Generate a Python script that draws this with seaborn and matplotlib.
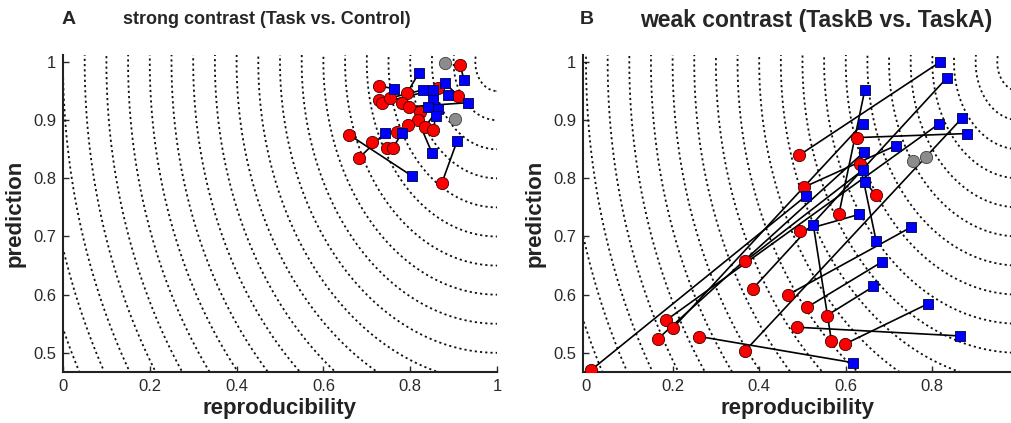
import numpy as np
import pandas as pd
import matplotlib
matplotlib.use("Agg")
import matplotlib.pyplot as plt
import seaborn as sns

# ---------------- data: panel A (strong contrast) ----------------
redA_x = [0.915, 0.727, 0.727, 0.735, 0.753, 0.793, 0.781, 0.797, 0.822, 0.864, 0.910,
          0.818, 0.795, 0.834, 0.853, 0.770, 0.659, 0.712, 0.747, 0.760, 0.682, 0.873]
redA_y = [0.995, 0.959, 0.935, 0.930, 0.938, 0.947, 0.930, 0.923, 0.914, 0.955, 0.942,
          0.900, 0.892, 0.888, 0.883, 0.880, 0.875, 0.863, 0.852, 0.852, 0.835, 0.792]
blueA_x = [0.820, 0.763, 0.829, 0.853, 0.880, 0.924, 0.887, 0.933, 0.853, 0.841, 0.864,
           0.859, 0.742, 0.781, 0.850, 0.908, 0.804]
blueA_y = [0.981, 0.954, 0.952, 0.952, 0.964, 0.969, 0.943, 0.930, 0.935, 0.923, 0.919,
           0.907, 0.878, 0.878, 0.844, 0.864, 0.804]
grayA_x = [0.880, 0.903]
grayA_y = [0.999, 0.902]
pairA_red = [0, 1, 5, 16, 20, 21, 19, 11, 9, 4, 7, 8, 13, 14, 12, 10, 3]
pairA_blue = [5, 1, 0, 16, 12, 15, 13, 14, 6, 2, 7, 9, 10, 11, 8, 4, 3]

# ---------------- data: panel B (weak contrast) ----------------
redB_x = [0.627, 0.493, 0.633, 0.504, 0.669, 0.584, 0.494, 0.467, 0.510, 0.556, 0.487,
          0.567, 0.598, 0.367, 0.385, 0.185, 0.200, 0.166, 0.262, 0.367, 0.011]
redB_y = [0.870, 0.840, 0.824, 0.785, 0.772, 0.738, 0.709, 0.600, 0.578, 0.564, 0.544,
          0.520, 0.515, 0.657, 0.610, 0.556, 0.542, 0.524, 0.528, 0.503, 0.470]
blueB_x = [0.881, 0.818, 0.670, 0.715, 0.644, 0.644, 0.631, 0.751, 0.683, 0.664, 0.864,
           0.525, 0.789, 0.639, 0.834, 0.816, 0.639, 0.642, 0.617, 0.868, 0.507]
blueB_y = [0.877, 1.000, 0.693, 0.856, 0.794, 0.952, 0.738, 0.716, 0.656, 0.614, 0.529,
           0.720, 0.584, 0.814, 0.973, 0.894, 0.894, 0.845, 0.483, 0.903, 0.769]
grayB_x = [0.756, 0.785]
grayB_y = [0.829, 0.837]
pairB_red = list(range(21))
pairB_blue = list(range(21))

titles = ["strong contrast (Task vs. Control)", "weak contrast (TaskB vs. TaskA)"]
letters = ["A", "B"]
xticks = [0, 0.2, 0.4, 0.6, 0.8, 1.0]
xticklabels = ["0", "0.2", "0.4", "0.6", "0.8", "1"]
yticks = [0.5, 0.6, 0.7, 0.8, 0.9, 1.0]
yticklabels = ["0.5", "0.6", "0.7", "0.8", "0.9", "1"]

sns.set_style("ticks")
plt.rcParams["font.family"] = ["Liberation Sans", "DejaVu Sans"]

W, H = 1012, 423
fig = plt.figure(figsize=(W / 100, H / 100), dpi=100)
top_px, bot_px = 55, 372
axA = fig.add_axes([63 / W, 1 - bot_px / H, 434 / W, (bot_px - top_px) / H])
axB = fig.add_axes([583 / W, 1 - bot_px / H, (W - 583) / W, (bot_px - top_px) / H])

ylim = (0.467, 1.012)
xlims = [(0.0, 1.0), (-0.007, 0.984)]


def draw(ax, xlim, rx, ry, bx, by, gx, gy, pr, pb):
    ax.set_xlim(*xlim)
    ax.set_ylim(*ylim)
    gxv = np.linspace(-0.05, 1.05, 600)
    gyv = np.linspace(0.4, 1.05, 600)
    XX, YY = np.meshgrid(gxv, gyv)
    D = np.sqrt((1 - XX) ** 2 + (1 - YY) ** 2)
    ax.contour(XX, YY, D, levels=np.arange(0.05, 1.65, 0.05), colors="#111111",
               linestyles=[(0, (1.2, 1.7))], linewidths=1.3)
    rows = []
    for k, (i, j) in enumerate(zip(pr, pb)):
        rows.append({"x": rx[i], "y": ry[i], "pair": k})
        rows.append({"x": bx[j], "y": by[j], "pair": k})
    df = pd.DataFrame(rows)
    sns.lineplot(data=df, x="x", y="y", units="pair", estimator=None, sort=False,
                 color="black", linewidth=1.2, ax=ax, legend=False, zorder=3)
    sns.scatterplot(x=rx, y=ry, marker="o", s=78, color="#ff0000", edgecolor="#400000",
                    linewidth=0.6, ax=ax, zorder=4, legend=False)
    sns.scatterplot(x=bx, y=by, marker="s", s=48, color="#0000ff", edgecolor="#000040",
                    linewidth=0.6, ax=ax, zorder=5, legend=False)
    sns.scatterplot(x=gx, y=gy, marker="o", s=78, color="#8c8c8c", edgecolor="#404040",
                    linewidth=0.6, ax=ax, zorder=6, legend=False)
    tk = [(t, l) for t, l in zip(xticks, xticklabels) if xlim[0] - 1e-9 <= t <= xlim[1] + 1e-9]
    ax.set_xticks([t for t, _ in tk])
    ax.set_xticklabels([l for _, l in tk])
    ax.set_yticks(yticks)
    ax.set_yticklabels(yticklabels)
    ax.tick_params(direction="in", length=4, width=1, labelsize=12, colors="#2a2a2a",
                   pad=5)
    for s in ["top", "right"]:
        ax.spines[s].set_visible(False)
    for s in ["left", "bottom"]:
        ax.spines[s].set_linewidth(1.5)
        ax.spines[s].set_color("#222222")
    ax.set_xlabel("reproducibility", fontsize=16, fontweight="bold", color="#222222",
                  labelpad=3)
    ax.set_ylabel("prediction", fontsize=16, fontweight="bold", color="#222222",
                  labelpad=5)


draw(axA, xlims[0], redA_x, redA_y, blueA_x, blueA_y, grayA_x, grayA_y, pairA_red, pairA_blue)
draw(axB, xlims[1], redB_x, redB_y, blueB_x, blueB_y, grayB_x, grayB_y, pairB_red, pairB_blue)

fig.text(62 / W, 1 - 20 / H, letters[0], fontsize=14, fontweight="bold", va="center", ha="left")
fig.text(123 / W, 1 - 20 / H, titles[0], fontsize=13, fontweight="bold", va="center", ha="left")
fig.text(580 / W, 1 - 20 / H, letters[1], fontsize=14, fontweight="bold", va="center", ha="left")
fig.text(640 / W, 1 - 20 / H, titles[1], fontsize=16.5, fontweight="bold", va="center", ha="left")

fig.savefig("out.png", dpi=100)
